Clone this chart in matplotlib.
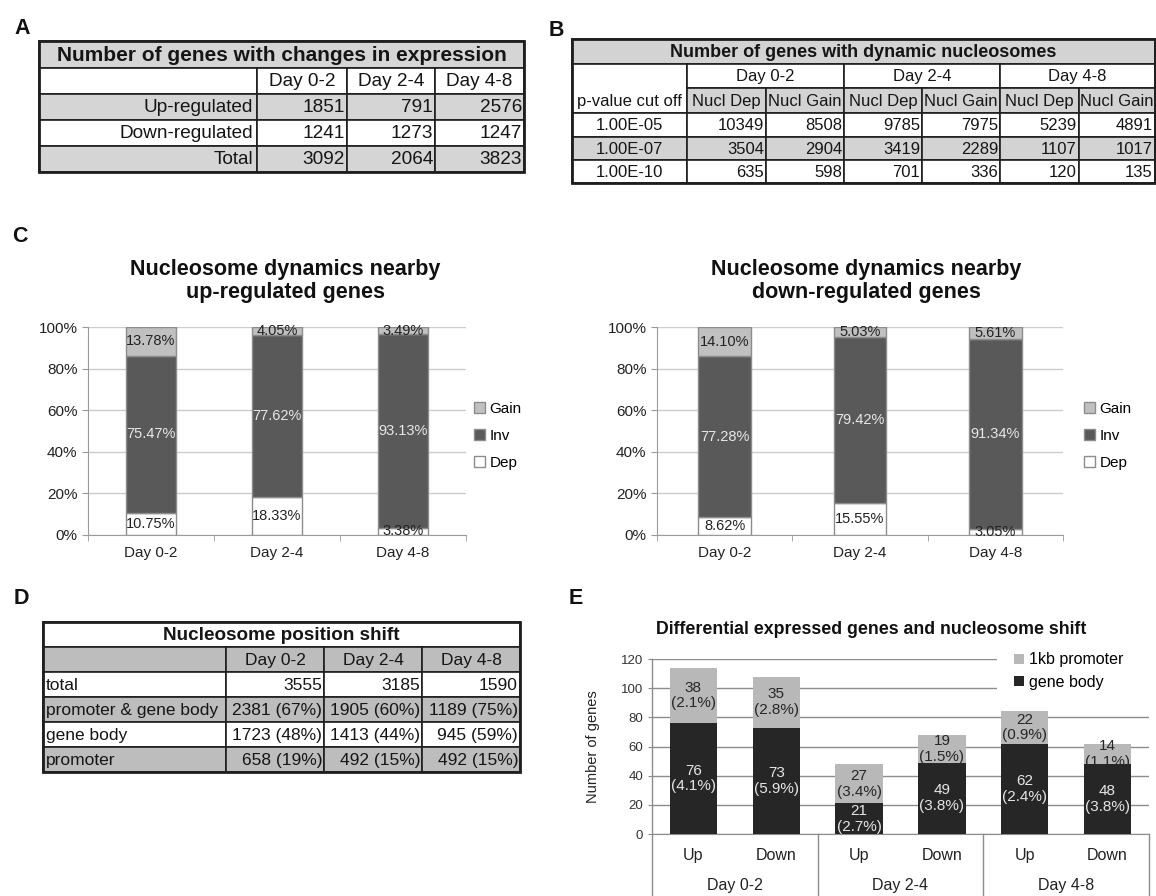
import matplotlib
matplotlib.use('Agg')
import numpy as np
import matplotlib.pyplot as plt
from matplotlib.patches import Rectangle
from matplotlib.transforms import blended_transform_factory

plt.rcParams['font.family'] = ['Liberation Sans', 'DejaVu Sans']

W, H = 1156, 896

# A: genes with changes in expression
expr_days = ['Day 0-2', 'Day 2-4', 'Day 4-8']
expr_rows = ['Up-regulated', 'Down-regulated', 'Total']
up_regulated = [1851, 791, 2576]
down_regulated = [1241, 1273, 1247]
expr_total = [3092, 2064, 3823]

# B: genes with dynamic nucleosomes (Dep, Gain per period)
pvalue_cutoffs = ['1.00E-05', '1.00E-07', '1.00E-10']
nucl_cols = ['Nucl Dep', 'Nucl Gain']
nucl_1e05 = [10349, 8508, 9785, 7975, 5239, 4891]
nucl_1e07 = [3504, 2904, 3419, 2289, 1107, 1017]
nucl_1e10 = [635, 598, 701, 336, 120, 135]

# C: nucleosome dynamics (%)
up_dep = [10.75, 18.33, 3.38]
up_inv = [75.47, 77.62, 93.13]
up_gain = [13.78, 4.05, 3.49]
down_dep = [8.62, 15.55, 3.05]
down_inv = [77.28, 79.42, 91.34]
down_gain = [14.10, 5.03, 5.61]

# D: nucleosome position shift
shift_rows = ['total', 'promoter & gene body', 'gene body', 'promoter']
shift_total = [3555, 3185, 1590]
shift_both = [2381, 1905, 1189]
shift_both_pct = [67, 60, 75]
shift_body = [1723, 1413, 945]
shift_body_pct = [48, 44, 59]
shift_prom = [658, 492, 492]
shift_prom_pct = [19, 15, 15]

# E: differential expressed genes and nucleosome shift
e_dirs = ['Up', 'Down', 'Up', 'Down', 'Up', 'Down']
body_n = [76, 73, 21, 49, 62, 48]
body_pct = [4.1, 5.9, 2.7, 3.8, 2.4, 3.8]
prom_n = [38, 35, 27, 19, 22, 14]
prom_pct = [2.1, 2.8, 3.4, 1.5, 0.9, 1.1]

fig = plt.figure(figsize=(W / 100, H / 100), dpi=100)
canvas = fig.add_axes([0, 0, 1, 1])
canvas.set_xlim(0, W)
canvas.set_ylim(H, 0)
canvas.axis('off')


def px_axes(x0, y0, x1, y1):
    ax = fig.add_axes([x0 / W, 1 - y1 / H, (x1 - x0) / W, (y1 - y0) / H])
    ax.set_facecolor('none')
    return ax


def cell(x0, y0, x1, y1, text='', fill='white', ha='center', size=12,
         weight='normal', pad=4):
    canvas.add_patch(Rectangle((x0, y0), x1 - x0, y1 - y0, facecolor=fill,
                               edgecolor='#1e1e1e', lw=1.2))
    if text != '':
        x = {'left': x0 + pad, 'right': x1 - pad, 'center': (x0 + x1) / 2}[ha]
        canvas.text(x, (y0 + y1) / 2 + 1, text, ha=ha, va='center',
                    fontsize=size, fontweight=weight, color='#151515')


def frame(x0, y0, x1, y1):
    canvas.add_patch(Rectangle((x0, y0), x1 - x0, y1 - y0, fill=False,
                               edgecolor='#1e1e1e', lw=2))


def panel_letter(x, y, s):
    canvas.text(x, y, s, ha='center', va='center', fontsize=15.5,
                fontweight='bold', color='#111')


# ---- A ----
gray_a = '#d5d5d5'
ca = [39, 257, 347, 435, 524]
ra = [41, 68, 94, 120, 146, 172]
cell(ca[0], ra[0], ca[-1], ra[1], 'Number of genes with changes in expression',
     gray_a, size=15, weight='bold')
cell(ca[0], ra[1], ca[1], ra[2])
for j, d in enumerate(expr_days):
    cell(ca[j + 1], ra[1], ca[j + 2], ra[2], d, size=13.7)
for i, (lab, vals) in enumerate(zip(expr_rows, [up_regulated, down_regulated, expr_total])):
    fill = 'white' if i == 1 else gray_a
    cell(ca[0], ra[i + 2], ca[1], ra[i + 3], lab, fill, 'right', 13.7)
    for j, v in enumerate(vals):
        cell(ca[j + 1], ra[i + 2], ca[j + 2], ra[i + 3], str(v), fill, 'right', 13.7, pad=2)
frame(ca[0], ra[0], ca[-1], ra[-1])
panel_letter(22, 29, 'A')

# ---- B ----
gray_b = '#d3d3d3'
cb = [572, 687, 766, 844, 922, 1000, 1079, 1155]
rb = [39, 64, 88, 113, 137, 160, 183]
cell(cb[0], rb[0], cb[-1], rb[1], 'Number of genes with dynamic nucleosomes',
     gray_b, size=13, weight='bold')
cell(cb[0], rb[1], cb[1], rb[3])
canvas.text((cb[0] + cb[1]) / 2, (rb[2] + rb[3]) / 2 + 1, 'p-value cut off',
            ha='center', va='center', fontsize=12, color='#151515')
for g, d in enumerate(expr_days):
    cell(cb[1 + 2 * g], rb[1], cb[3 + 2 * g], rb[2], d, size=12)
for k in range(6):
    cell(cb[1 + k], rb[2], cb[2 + k], rb[3], nucl_cols[k % 2], gray_b, size=12)
for i, (pv, vals) in enumerate(zip(pvalue_cutoffs, [nucl_1e05, nucl_1e07, nucl_1e10])):
    fill = gray_b if i == 1 else 'white'
    cell(cb[0], rb[i + 3], cb[1], rb[i + 4], pv, fill, 'center', 12)
    for k, v in enumerate(vals):
        cell(cb[1 + k], rb[i + 3], cb[2 + k], rb[i + 4], str(v), fill, 'right', 12, pad=2)
frame(cb[0], rb[0], cb[-1], rb[-1])
panel_letter(556, 30, 'B')

# ---- D ----
gray_d = '#bdbdbd'
cd = [43, 226, 324, 422, 520]
rd = [622, 647, 672, 697, 722, 747, 772]
cell(cd[0], rd[0], cd[-1], rd[1], 'Nucleosome position shift', 'white',
     size=13.6, weight='bold')
cell(cd[0], rd[1], cd[1], rd[2], '', gray_d)
for j, d in enumerate(expr_days):
    cell(cd[j + 1], rd[1], cd[j + 2], rd[2], d, gray_d, size=12.5)
shift_text = [
    [str(n) for n in shift_total],
    [f'{n} ({p}%)' for n, p in zip(shift_both, shift_both_pct)],
    [f'{n} ({p}%)' for n, p in zip(shift_body, shift_body_pct)],
    [f'{n} ({p}%)' for n, p in zip(shift_prom, shift_prom_pct)],
]
for i, (lab, vals) in enumerate(zip(shift_rows, shift_text)):
    fill = gray_d if i % 2 == 1 else 'white'
    cell(cd[0], rd[i + 2], cd[1], rd[i + 3], lab, fill, 'left', 12.5, pad=3)
    for j, v in enumerate(vals):
        cell(cd[j + 1], rd[i + 2], cd[j + 2], rd[i + 3], v, fill, 'right', 12.5, pad=2)
frame(cd[0], rd[0], cd[-1], rd[-1])
panel_letter(21, 598, 'D')


# ---- C ----
def dynamics_chart(rect, dep, inv, gain, title, title_x, legend_x):
    ax = px_axes(*rect)
    x = np.arange(len(expr_days))
    w = 0.39
    edge = '#8c8c8c'
    inv_bottom = dep
    gain_bottom = [d + v for d, v in zip(dep, inv)]
    b_dep = ax.bar(x, dep, w, color='white', edgecolor=edge, lw=1, zorder=3)
    b_inv = ax.bar(x, inv, w, bottom=inv_bottom, color='#595959', edgecolor=edge, lw=1, zorder=3)
    b_gain = ax.bar(x, gain, w, bottom=gain_bottom, color='#c0c0c0', edgecolor=edge, lw=1, zorder=3)
    for vals, bottoms, col in [(dep, [0] * 3, '#222222'), (inv, inv_bottom, '#e8e8e8'),
                               (gain, gain_bottom, '#222222')]:
        for xi, v, b in zip(x, vals, bottoms):
            ax.text(xi, b + v / 2, f'{v:.2f}%', ha='center', va='center',
                    fontsize=10.5, color=col, zorder=4)
    ax.set_xlim(-0.5, 2.5)
    ax.set_ylim(0, 100)
    ax.set_yticks(np.arange(0, 101, 20))
    ax.set_yticklabels([f'{t}%' for t in range(0, 101, 20)])
    ax.set_xticks(x)
    ax.set_xticklabels(expr_days)
    ax.set_xticks([-0.5, 0.5, 1.5, 2.5], minor=True)
    ax.tick_params(axis='x', which='major', length=0, labelsize=11, pad=8, colors='#222222')
    ax.tick_params(axis='x', which='minor', length=4, color='#9a9a9a')
    ax.tick_params(axis='y', length=4, color='#9a9a9a', labelsize=11, labelcolor='#222222')
    ax.yaxis.grid(True, color='#cccccc', lw=1)
    ax.set_axisbelow(True)
    for s in ['top', 'right']:
        ax.spines[s].set_visible(False)
    for s in ['left', 'bottom']:
        ax.spines[s].set_color('#9a9a9a')
    canvas.text(title_x, 281, title, ha='center', va='center', fontsize=15.5,
                fontweight='bold', linespacing=1.15, color='#111')
    ax.legend([b_gain, b_inv, b_dep], ['Gain', 'Inv', 'Dep'], loc='upper left',
              bbox_to_anchor=(legend_x / W, 1 - 402 / H), bbox_transform=fig.transFigure,
              frameon=False, fontsize=11, handlelength=0.7, handleheight=0.7,
              handletextpad=0.3, labelspacing=0.85, borderaxespad=0, borderpad=0)
    return ax


dynamics_chart((88, 327, 466, 535), up_dep, up_inv, up_gain,
               'Nucleosome dynamics nearby\nup-regulated genes', 285, 474)
dynamics_chart((657, 327, 1063, 535), down_dep, down_inv, down_gain,
               'Nucleosome dynamics nearby\ndown-regulated genes', 866, 1084)
panel_letter(20, 237, 'C')

# ---- E ----
ax = px_axes(652, 659, 1149, 834)
xe = np.arange(len(e_dirs))
we = 0.57
b_body = ax.bar(xe, body_n, we, color='#262626', zorder=3)
b_prom = ax.bar(xe, prom_n, we, bottom=body_n, color='#b8b8b8', zorder=3)
for xi, n, p in zip(xe, body_n, body_pct):
    ax.text(xi, n / 2, f'{n}\n({p}%)', ha='center', va='center', fontsize=11,
            color='#e6e6e6', linespacing=1.15, zorder=4)
for xi, b, n, p in zip(xe, body_n, prom_n, prom_pct):
    ax.text(xi, b + n / 2, f'{n}\n({p}%)', ha='center', va='center', fontsize=11,
            color='#262626', linespacing=1.15, zorder=4)
ax.set_xlim(-0.5, len(e_dirs) - 0.5)
ax.set_ylim(0, 120)
ax.set_yticks(np.arange(0, 121, 20))
ax.tick_params(axis='y', length=3, color='#8c8c8c', labelsize=9.5, labelcolor='#333333')
ax.set_xticks([])
ax.yaxis.grid(True, color='#8c8c8c', lw=1)
ax.set_axisbelow(True)
for s in ['top', 'right', 'left']:
    ax.spines[s].set_visible(False)
ax.spines['bottom'].set_color('#8c8c8c')
ax.set_ylabel('Number of genes', fontsize=10.5, color='#222222')
ax.yaxis.set_label_coords(-0.105, 0.5)

# two-level category axis
tr = blended_transform_factory(ax.transData, ax.transAxes)
low = -(896 - 834) / (834 - 659)
for xi, lab in zip(xe, e_dirs):
    ax.text(xi, -(855 - 834) / 175, lab, transform=tr, ha='center', va='center',
            fontsize=11.5, color='#222222')
for g, d in enumerate(expr_days):
    ax.text(2 * g + 0.5, -(885 - 834) / 175, d, transform=tr, ha='center', va='center',
            fontsize=11.5, color='#222222')
for xs in np.arange(-0.5, len(e_dirs), 2):
    ax.plot([xs, xs], [1 if xs == -0.5 else 0, low], transform=tr, color='#8c8c8c',
            lw=1, clip_on=False)

# legend box hides the top gridlines on the right
ax.add_patch(Rectangle((997 / W, 1 - 703 / H), (1156 - 997) / W, (703 - 645) / H,
                       transform=fig.transFigure, facecolor='white', edgecolor='none',
                       zorder=2, clip_on=False))
ax.legend([b_prom, b_body], ['1kb promoter', 'gene body'], loc='upper left',
          bbox_to_anchor=(1012 / W, 1 - 650 / H), bbox_transform=fig.transFigure,
          frameon=False, fontsize=11.5, handlelength=0.6, handleheight=0.6,
          handletextpad=0.3, labelspacing=0.45, borderaxespad=0, borderpad=0.15)

canvas.text(871, 630, 'Differential expressed genes and nucleosome shift',
            ha='center', va='center', fontsize=12.8, fontweight='bold', color='#111')
panel_letter(576, 598, 'E')

fig.savefig('out.png', dpi=100)
